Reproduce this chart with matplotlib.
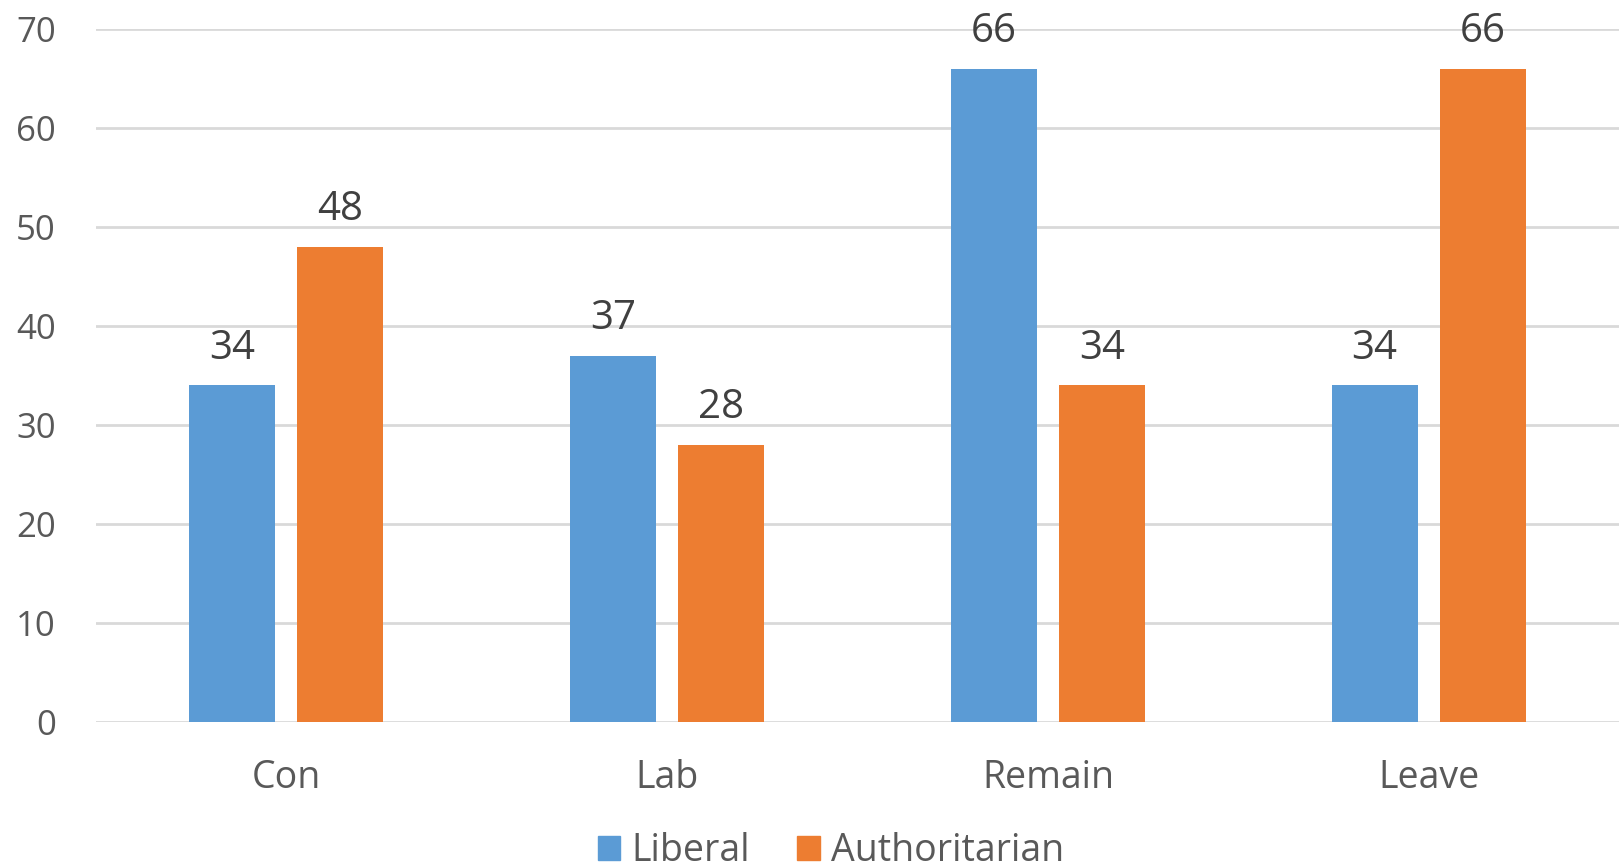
import matplotlib
matplotlib.use('Agg')
import matplotlib.pyplot as plt
import numpy as np
from matplotlib.patches import Patch

categories = ['Con', 'Lab', 'Remain', 'Leave']
liberal = [34, 37, 66, 34]
authoritarian = [48, 28, 34, 66]
yticks = [0, 10, 20, 30, 40, 50, 60, 70]

BLUE = '#5B9BD5'
ORANGE = '#ED7D31'

plt.rcParams['font.family'] = ['Open Sans', 'DejaVu Sans']

W, H = 1619, 868
fig = plt.figure(figsize=(W / 100, H / 100), dpi=100)
ax = fig.add_axes([96 / W, (H - 722) / H, (W - 96) / W, (722 - 29) / H])

x = np.arange(len(categories))
width = 0.226
off = 0.1417
b1 = ax.bar(x - off, liberal, width, color=BLUE, zorder=3)
b2 = ax.bar(x + off, authoritarian, width, color=ORANGE, zorder=3)

# value labels above each bar
for bars, vals in ((b1, liberal), (b2, authoritarian)):
    for rect, v in zip(bars, vals):
        ax.annotate(str(v), (rect.get_x() + rect.get_width() / 2, v),
                    xytext=(0, 19), textcoords='offset points',
                    ha='center', va='baseline', fontsize=29,
                    color='#404040', zorder=4)

ax.set_xlim(-0.5, len(categories) - 0.5)
ax.set_ylim(0, 70)
ax.set_yticks(yticks)
ax.set_xticks(x)
ax.set_xticklabels(categories)
ax.tick_params(axis='both', length=0, colors='#595959')
ax.tick_params(axis='y', pad=29, labelsize=25)
ax.tick_params(axis='x', pad=27, labelsize=27)
ax.grid(axis='y', color='#D9D9D9', linewidth=2, zorder=0)
for s in ax.spines.values():
    s.set_visible(False)

handles = [Patch(color=BLUE, label='Liberal'), Patch(color=ORANGE, label='Authoritarian')]
fig.legend(handles=handles, loc='center', bbox_to_anchor=(831 / W, 1 - 851 / H),
           ncol=2, frameon=False, fontsize=27, labelcolor='#595959',
           handlelength=0.61, handleheight=0.61, handletextpad=0.3, columnspacing=1.25,
           borderpad=0.2)

fig.savefig('out.png', dpi=100, facecolor='white')
